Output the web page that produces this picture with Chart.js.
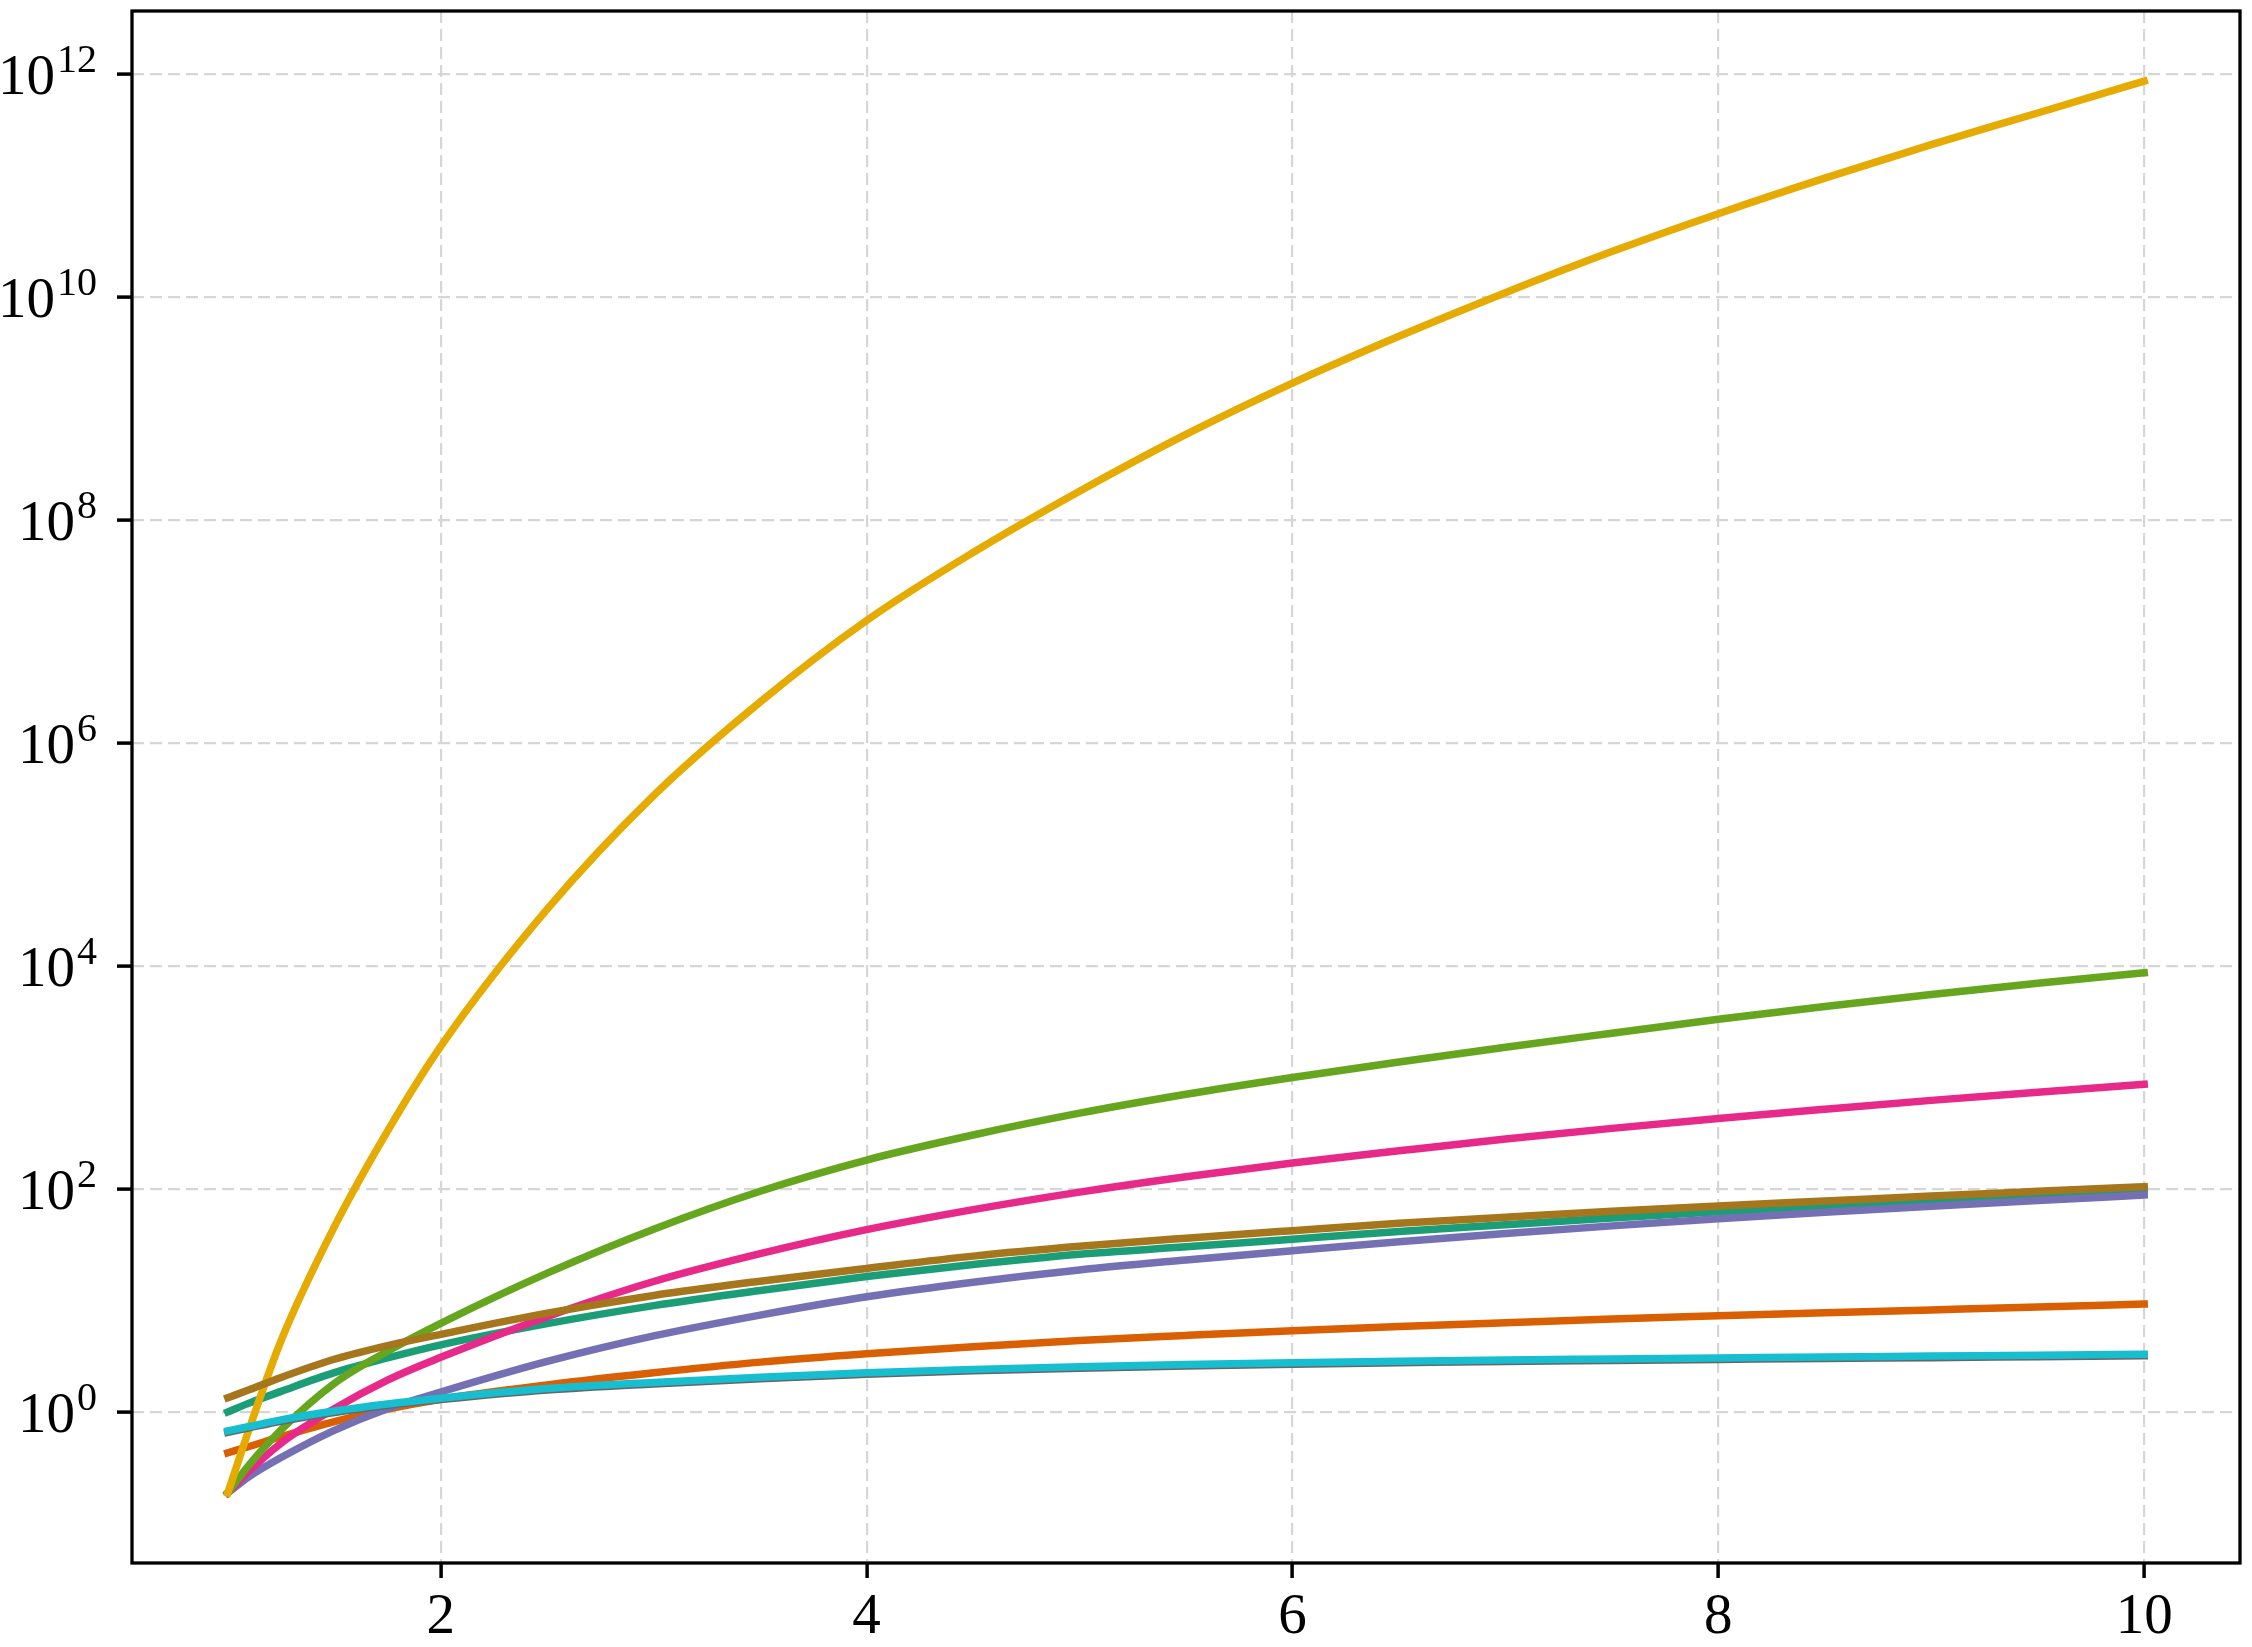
<!DOCTYPE html>
<html>
<head>
<meta charset="utf-8">
<script src="https://cdn.jsdelivr.net/npm/chart.js@4.4.1/dist/chart.umd.min.js"></script>
<style>
  body { margin: 0; background: #fff; }
  canvas { display: block; }
</style>
</head>
<body>
<canvas id="grafica" width="2252" height="1647"></canvas>
<script>
  const xValues = [1, 1.1, 1.25, 1.5, 1.75, 2, 2.5, 3, 3.5, 4, 4.5, 5, 5.5, 6, 6.5, 7, 7.5, 8, 8.5, 9, 9.5, 10];

  // values (log scale)
  const teal   = [1.0, 1.2, 1.53, 2.25, 3.05, 4.0, 6.2, 9.0, 12.3, 16.4, 21, 26, 30.3, 35.5, 41.5, 47.8, 55, 62.5, 70, 78.5, 88, 99.5];
  const orange = [0.43, 0.49, 0.6, 0.82, 1.06, 1.3, 1.75, 2.25, 2.8, 3.33, 3.85, 4.38, 4.86, 5.36, 5.84, 6.32, 6.82, 7.28, 7.75, 8.23, 8.74, 9.3];
  const purple = [0.188, 0.263, 0.39, 0.684, 1.07, 1.51, 2.84, 4.81, 7.4, 10.8, 14.6, 18.8, 23.1, 28.0, 33.7, 39.9, 46.7, 54.0, 61.8, 70.1, 78.9, 88.3];
  const pink   = [0.188, 0.295, 0.525, 1.07, 1.93, 3.09, 7.16, 14.8, 26.3, 43.2, 65.3, 93.8, 129, 171, 220, 281, 350, 430, 520, 624, 738, 869];
  const green  = [0.188, 0.335, 0.69, 1.8, 3.5, 6.24, 17.6, 43.6, 95.5, 182, 305, 479, 708, 1000, 1380, 1870, 2500, 3330, 4340, 5560, 7000, 8710];
  const yellow = [0.188, 0.7, 4.35, 45.7, 331, 1905, 3.24e4, 3.39e5, 2.34e6, 1.26e7, 5.13e7, 1.82e8, 5.89e8, 1.7e9, 4.47e9, 1.1e10, 2.57e10, 5.62e10, 1.17e11, 2.34e11, 4.5e11, 8.7e11];
  const brown  = [1.34, 1.58, 2.04, 2.97, 3.94, 4.97, 7.7, 11.1, 14.9, 19.4, 25, 30.6, 36.2, 42.3, 49.2, 55.8, 63.1, 70.4, 78, 86.5, 95.3, 105];
  const gray   = [0.656, 0.72, 0.825, 0.99, 1.145, 1.29, 1.57, 1.785, 1.99, 2.18, 2.34, 2.47, 2.58, 2.68, 2.76, 2.84, 2.9, 2.96, 3.02, 3.07, 3.13, 3.19];
  const cyan   = [0.676, 0.74, 0.85, 1.02, 1.18, 1.33, 1.62, 1.84, 2.05, 2.25, 2.41, 2.55, 2.66, 2.76, 2.85, 2.93, 2.99, 3.05, 3.11, 3.17, 3.23, 3.29];

  const xTicks = [2, 4, 6, 8, 10];
  const yExponents = [0, 2, 4, 6, 8, 10, 12];

  const series = [
    { values: teal,   color: '#1b9e77' },
    { values: orange, color: '#d95f02' },
    { values: purple, color: '#7570b3' },
    { values: pink,   color: '#e7298a' },
    { values: green,  color: '#66a61e' },
    { values: yellow, color: '#e6ab02' },
    { values: brown,  color: '#a6761d' },
    { values: gray,   color: '#666666' },
    { values: cyan,   color: '#17becf' }
  ];

  const serif = '"Liberation Serif", "DejaVu Serif", serif';

  // frame + tick labels drawn like matplotlib (10 with a raised exponent)
  const axisLabels = {
    id: 'axisLabels',
    afterDraw(chart) {
      const ctx = chart.ctx;
      const area = chart.chartArea;
      const xs = chart.scales.x;
      const ys = chart.scales.y;
      ctx.save();
      ctx.strokeStyle = '#000';
      ctx.lineWidth = 3.3;
      ctx.strokeRect(area.left, area.top, area.right - area.left, area.bottom - area.top);

      ctx.fillStyle = '#000';
      ctx.textBaseline = 'alphabetic';
      ctx.textAlign = 'center';
      ctx.font = '57px ' + serif;
      for (const v of xTicks) {
        ctx.fillText(String(v), xs.getPixelForValue(v), area.bottom + 70);
      }

      ctx.textAlign = 'right';
      const labelRight = area.left - 35;
      for (const e of yExponents) {
        const y = ys.getPixelForValue(Math.pow(10, e));
        ctx.font = '40px ' + serif;
        const sup = String(e);
        const w = ctx.measureText(sup).width;
        ctx.fillText(sup, labelRight, y - 2);
        ctx.font = '57px ' + serif;
        ctx.fillText('10', labelRight - w - 2, y + 20);
      }
      ctx.restore();
    }
  };

  const data = {
    datasets: series.map((s, i) => ({
      data: xValues.map((x, j) => ({ x: x, y: s.values[j] })),
      borderColor: s.color,
      backgroundColor: s.color,
      borderWidth: 7.5,
      borderCapStyle: 'square',
      pointRadius: 0,
      cubicInterpolationMode: 'monotone',
      fill: false,
      order: series.length - i
    }))
  };

  const config = {
    type: 'line',
    data: data,
    options: {
      responsive: false,
      animation: false,
      devicePixelRatio: 1,
      elements: { line: { borderWidth: 7.5 } },
      layout: { padding: { left: 0, top: 11, right: 12, bottom: 0 } },
      plugins: { legend: { display: false }, tooltip: { enabled: false } },
      scales: {
        x: {
          type: 'linear',
          min: 0.55,
          max: 10.45,
          afterBuildTicks: (scale) => { scale.ticks = xTicks.map(v => ({ value: v })); },
          afterFit: (scale) => { scale.height = 84; },
          ticks: { display: false },
          grid: { color: '#d6d6d6', lineWidth: 2.2, drawTicks: true, tickLength: 15, tickColor: '#000', tickWidth: 3.5, tickBorderDash: [] },
          border: { display: false, dash: [12, 6] }
        },
        y: {
          type: 'logarithmic',
          min: Math.pow(10, -1.355),
          max: Math.pow(10, 12.568),
          afterBuildTicks: (scale) => { scale.ticks = yExponents.map(e => ({ value: Math.pow(10, e) })); },
          afterFit: (scale) => { scale.width = 132; },
          ticks: { display: false },
          grid: { color: '#d6d6d6', lineWidth: 2.2, drawTicks: true, tickLength: 15, tickColor: '#000', tickWidth: 3.5, tickBorderDash: [] },
          border: { display: false, dash: [12, 6] }
        }
      }
    },
    plugins: [axisLabels]
  };

  const myChart = new Chart(document.getElementById('grafica'), config);
</script>
</body>
</html>
